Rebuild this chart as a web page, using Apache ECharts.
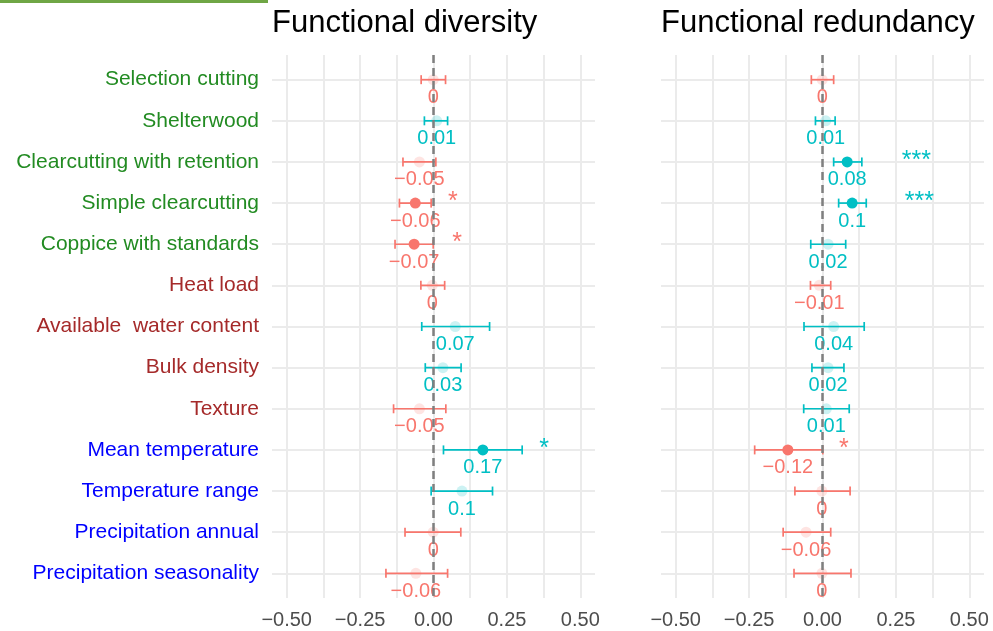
<!DOCTYPE html>
<html><head><meta charset="utf-8">
<script src="https://cdn.jsdelivr.net/npm/echarts@6/dist/echarts.min.js"></script>
<style>html,body{margin:0;padding:0;background:#fff}#c{width:993px;height:631px}</style>
</head><body><div id="c"></div>
<script>
const categories = ["Selection cutting","Shelterwood","Clearcutting with retention","Simple clearcutting","Coppice with standards","Heat load","Available  water content","Bulk density","Texture","Mean temperature","Temperature range","Precipitation annual","Precipitation seasonality"];
const categoryGroup = ["forest","forest","forest","forest","forest","soil","soil","soil","soil","climate","climate","climate","climate"];
const xTickLabels = [-0.5,-0.25,0,0.25,0.5];
const xGridValues = [-0.5,-0.375,-0.25,-0.125,0,0.125,0.25,0.375,0.5];
const panelTitles = ["Functional diversity","Functional redundancy"];

const divEst  = [-0.001,0.011,-0.048,-0.062,-0.066,-0.004,0.074,0.032,-0.048,0.168,0.097,-0.001,-0.060];
const divLow  = [-0.042,-0.031,-0.104,-0.116,-0.131,-0.043,-0.040,-0.028,-0.136,0.034,-0.008,-0.097,-0.162];
const divHigh = [0.041,0.048,0.008,-0.008,-0.001,0.038,0.191,0.094,0.042,0.302,0.201,0.093,0.048];
const divStars = ["","","","*","*","","","","","*","","",""];
const divStarX = [null,null,null,0.066,0.080,null,null,null,null,0.377,null,null,null];

const redEst  = [-0.001,0.011,0.084,0.101,0.019,-0.011,0.038,0.019,0.013,-0.118,-0.002,-0.056,-0.002];
const redLow  = [-0.038,-0.024,0.038,0.055,-0.040,-0.041,-0.063,-0.036,-0.064,-0.231,-0.094,-0.134,-0.097];
const redHigh = [0.038,0.043,0.134,0.149,0.079,0.028,0.142,0.073,0.091,0.001,0.094,0.028,0.097];
const redStars = ["","","***","***","","","","","","*","","",""];
const redStarX = [null,null,0.320,0.330,null,null,null,null,null,0.073,null,null,null];

const RED = '#F8766D', TEAL = '#00BFC4';
const RED_F = 'rgba(248,118,109,0.2)', TEAL_F = 'rgba(0,191,196,0.2)';
const groupColor = {forest:'#228B22', soil:'#A52A2A', climate:'#0000FF'};
const idx = categories.map((_, i) => i);
const fmt = v => String(Math.round(v * 100) / 100).replace('-', '\u2212');

function errRender(params, api) {
  const lo = api.coord([api.value(0), api.value(2)]);
  const hi = api.coord([api.value(1), api.value(2)]);
  const c = api.value(3) < 0 ? RED : TEAL;
  const h = 4.5, lw = 1.7;
  return {type:'group', children:[
    {type:'line', shape:{x1:lo[0],y1:lo[1],x2:hi[0],y2:hi[1]}, style:{stroke:c,lineWidth:lw}},
    {type:'line', shape:{x1:lo[0],y1:lo[1]-h,x2:lo[0],y2:lo[1]+h}, style:{stroke:c,lineWidth:lw}},
    {type:'line', shape:{x1:hi[0],y1:hi[1]-h,x2:hi[0],y2:hi[1]+h}, style:{stroke:c,lineWidth:lw}}
  ]};
}

function panelSeries(p, est, low, high, stars, starX) {
  const ax = {xAxisIndex:p, yAxisIndex:p};
  return [
    Object.assign({type:'custom', renderItem:errRender, encode:{x:[0,1], y:2},
      data: idx.map(i => [low[i], high[i], i, est[i]]), z:2}, ax),
    Object.assign({type:'scatter', symbolSize:11, z:3, itemStyle:{opacity:1},
      data: idx.map(i => ({value:[est[i], i], itemStyle:{opacity:1, color: stars[i] ? (est[i] < 0 ? RED : TEAL) : (est[i] < 0 ? RED_F : TEAL_F)}})),
      markLine: {silent:true, symbol:['none','none'], label:{show:false},
        lineStyle:{type:[8,5], color:'#7f7f7f', width:2.5, opacity:1}, data:[{xAxis:0}]}}, ax),
    Object.assign({type:'scatter', symbolSize:1, z:4, itemStyle:{color:'rgba(0,0,0,0)', opacity:1},
      data: idx.map(i => ({value:[est[i], i], label:{show:true, position:'inside', offset:[0,18], opacity:1,
        formatter: fmt(est[i]), color: est[i] < 0 ? RED : TEAL, fontSize:20, fontFamily:'Liberation Sans'}}))}, ax),
    Object.assign({type:'scatter', symbolSize:1, z:4, itemStyle:{color:'rgba(0,0,0,0)', opacity:1},
      data: idx.filter(i => stars[i]).map(i => ({value:[starX[i], i], label:{show:true, position:'inside', offset:[0,-1], opacity:1,
        formatter: stars[i], color: est[i] < 0 ? RED : TEAL, fontSize:25, fontFamily:'Liberation Sans'}}))}, ax)
  ];
}

const grids = [
  {left:272, right:398, top:55, bottom:33},
  {left:661, right:9, top:55, bottom:33}
];

function xAxisFor(p) {
  return {type:'value', gridIndex:p, min:-0.55, max:0.55,
    axisLine:{show:false}, axisTick:{show:false, customValues:xGridValues},
    axisLabel:{customValues:xTickLabels, formatter: v => v.toFixed(2).replace('-', '\u2212'),
      fontSize:20, color:'#4d4d4d', margin:12, fontFamily:'Liberation Sans'},
    splitLine:{show:true, lineStyle:{color:'#EBEBEB', width:2}}};
}
function yAxisFor(p) {
  return {type:'value', gridIndex:p, inverse:true, min:-0.6, max:12.6,
    axisLine:{show:false}, axisTick:{show:false, customValues:idx},
    axisLabel:{show:p === 0, customValues:idx, formatter: v => categories[Math.round(v)],
      color: v => groupColor[categoryGroup[Math.round(Number(v))]],
      fontSize:21, margin:13, fontFamily:'Liberation Sans'},
    splitLine:{show:true, lineStyle:{color:'#EBEBEB', width:2}}};
}

const chart = echarts.init(document.getElementById('c'));
chart.setOption({
  animation:false,
  backgroundColor:'#fff',
  title: panelTitles.map((t, p) => ({text:t, left: grids[p].left, top:8, padding:0,
    textStyle:{fontSize:31, fontWeight:'normal', color:'#000', fontFamily:'Liberation Sans'}})),
  graphic:[{type:'rect', shape:{x:0, y:0, width:268, height:3}, style:{fill:'#6fa645'}}],
  grid: grids,
  xAxis: [xAxisFor(0), xAxisFor(1)],
  yAxis: [yAxisFor(0), yAxisFor(1)],
  series: [].concat(
    panelSeries(0, divEst, divLow, divHigh, divStars, divStarX),
    panelSeries(1, redEst, redLow, redHigh, redStars, redStarX)
  )
});
</script></body></html>
